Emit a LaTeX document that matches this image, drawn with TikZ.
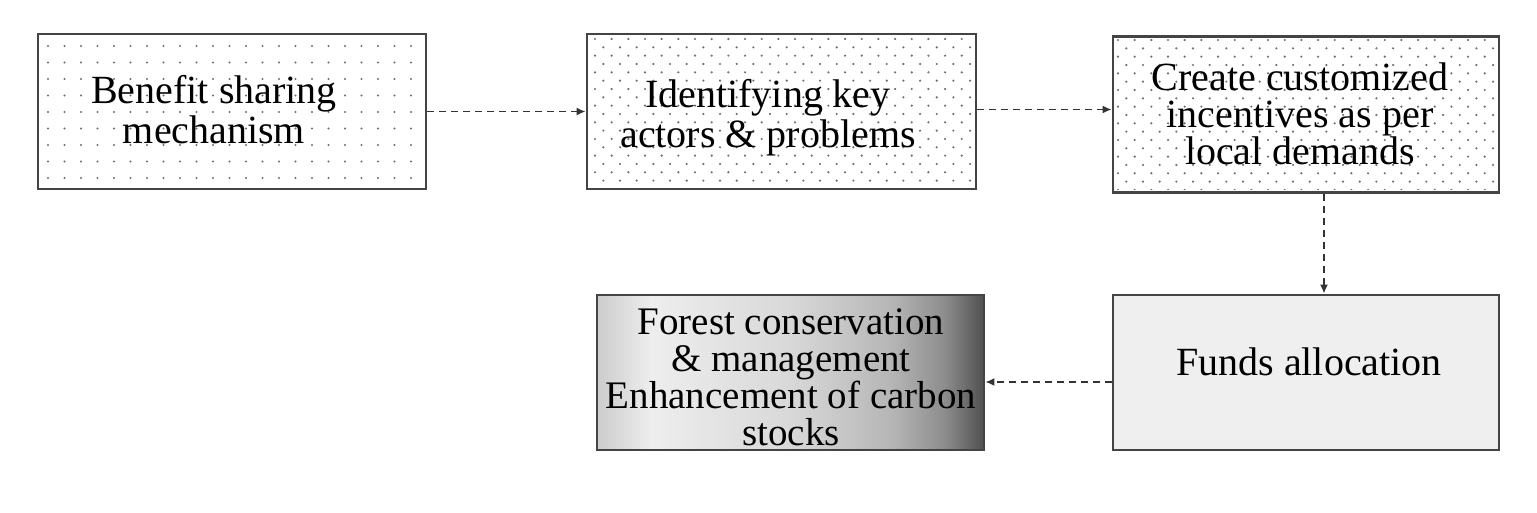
\documentclass[tikz,border=0pt]{standalone}
\usepackage{fontspec}
\setmainfont{Liberation Serif}
\usetikzlibrary{arrows.meta}
\definecolor{edge}{HTML}{444444}
\definecolor{dotc}{HTML}{6E6E6E}
\definecolor{fundfill}{HTML}{EFEFEF}
\definecolor{arrowc}{HTML}{333333}
\definecolor{sA}{HTML}{CCCCCC}
\definecolor{sB}{HTML}{EEEEEE}
\definecolor{sC}{HTML}{D8D8D8}
\definecolor{sD}{HTML}{B6B6B6}
\definecolor{sE}{HTML}{8C8C8C}
\definecolor{sF}{HTML}{505050}
\pgfdeclarehorizontalshading{boxfour}{100bp}{color(0bp)=(sA); color(25bp)=(sA); color(32bp)=(sB); color(50bp)=(sC); color(63bp)=(sD); color(70bp)=(sE); color(75bp)=(sF); color(100bp)=(sF)}
\tikzset{
  box/.style={draw=edge, line width=2.7pt, rectangle, inner sep=0pt},
  txt/.style={anchor=base, align=center, inner sep=0pt, text=black},
  flow/.style={draw=arrowc, line width=1.8pt, dash pattern=on 7pt off 5pt, -{Latex[length=9pt,width=8pt]}},
  dot/.style={fill=dotc}
}
\begin{document}
\begin{tikzpicture}[x=1pt,y=-1pt]
\useasboundingbox (0,0) rectangle (1537,512);
% boxes
\node[box, fill=white, minimum width=388pt, minimum height=155pt] (b1) at (232,111.5) {};
\node[box, fill=white, minimum width=389pt, minimum height=155pt] (b2) at (781.5,111.5) {};
\node[box, fill=white, minimum width=386pt, minimum height=156pt] (b3) at (1306,114.5) {};
\node[box, shading=boxfour, shading angle=0, minimum width=387pt, minimum height=155pt] (b4) at (790.5,372.5) {};
\node[box, fill=fundfill, minimum width=386pt, minimum height=155pt] (b5) at (1306,372.5) {};
% dots box 1 (square grid)
\begin{scope}
\clip (41,37) rectangle (423,186);
\foreach \i in {0,...,23} {
  \foreach \j in {0,...,8} {
    \fill[dot] (48+\i*16.5, 46+\j*16.5) circle (1.2pt);
  }
}
\end{scope}
% dots box 2 (staggered)
\begin{scope}
\clip (590,37) rectangle (973,186);
\foreach \r in {0,...,17} {
  \pgfmathsetmacro\yy{39+\r*8.33}
  \pgfmathsetmacro\off{mod(\r,2)*8.33}
  \foreach \c in {0,...,23} {
    \fill[dot] (595+\off+\c*16.67, \yy) circle (1.2pt);
  }
}
\end{scope}
% dots box 3 (staggered)
\begin{scope}
\clip (1116,39) rectangle (1496,189);
\foreach \r in {0,...,18} {
  \pgfmathsetmacro\yy{40+\r*8.33}
  \pgfmathsetmacro\off{mod(\r,2)*8.33}
  \foreach \c in {0,...,23} {
    \fill[dot] (1118+\off+\c*16.67, \yy) circle (1.2pt);
  }
}
\end{scope}
% texts (anchor=base is the baseline of the last line)
\node[txt, font=\fontsize{40}{40}\selectfont] (t1) at (214,143) {Benefit sharing\\mechanism};
\node[txt, font=\fontsize{40}{40}\selectfont] (t2) at (768,147) {Identifying key\\actors \& problems};
\node[txt, font=\fontsize{40}{37}\selectfont] (t3) at (1300,164) {Create customized\\incentives as per\\local demands};
\node[txt, font=\fontsize{39}{37}\selectfont] (t4) at (791,445) {Forest conservation\\\& management\\Enhancement of carbon\\stocks};
\node[txt, font=\fontsize{40}{42}\selectfont] (t5) at (1309,375) {Funds allocation};
% connectors
\draw[flow] (b1.east) -- (b2.west);
\draw[flow] ([yshift=2pt]b2.east) -- ([yshift=2pt]b2.east -| b3.west);
\draw[flow] ([xshift=18pt]b3.south) -- ([xshift=18pt]b3.south |- b5.north);
\draw[flow] ([yshift=-9.5pt]b5.west) -- ([yshift=-9.5pt]b5.west -| b4.east);
\end{tikzpicture}
\end{document}
